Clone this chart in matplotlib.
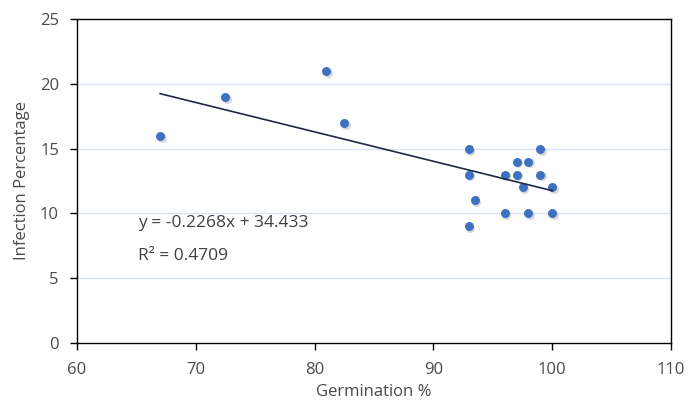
import matplotlib
matplotlib.use("Agg")
import matplotlib.pyplot as plt
import numpy as np

plt.rcParams['font.family'] = ['Open Sans', 'DejaVu Sans']

germination = [67, 72.5, 81, 82.5, 93, 93, 93, 93.5, 96, 96, 97, 97, 97.5, 98, 98, 99, 99, 100, 100]
infection = [16, 19, 21, 17, 15, 13, 9, 11, 10, 13, 14, 13, 12, 14, 10, 15, 13, 12, 10]
slope = -0.2268
intercept = 34.433
r2 = 0.4709
xticks = [60, 70, 80, 90, 100, 110]
yticks = [0, 5, 10, 15, 20, 25]

fig = plt.figure(figsize=(6.88, 4.09), dpi=100)
ax = fig.add_axes([0.1119, 0.1614, 0.8634, 0.7922])

ax.set_xlim(60, 110)
ax.set_ylim(0, 25)
ax.set_xticks(xticks)
ax.set_yticks(yticks)

for y in yticks[1:-1]:
    ax.axhline(y, color='#dae3f3', lw=1, zorder=0)

# shadow
ax.scatter(np.array(germination) + 0.12, np.array(infection) - 0.15, s=42, color='#b0b0b0', alpha=0.5, linewidths=0, zorder=2)
ax.scatter(germination, infection, s=42, color='#3d72c0', linewidths=0, zorder=3)

xs = np.array([min(germination), max(germination)])
ax.plot(xs, slope * xs + intercept, color='#1f2a44', lw=1.2, zorder=4)

ax.text(65.1, 9.26, f"y = {slope}x + {intercept}", fontsize=12.5, color='#404040', va='center', ha='left')
ax.text(65.1, 6.75, f"R² = {r2}", fontsize=12.5, color='#404040', va='center', ha='left')

for s in ax.spines.values():
    s.set_color('black')
    s.set_linewidth(1)
ax.tick_params(direction='out', length=5, width=1, colors='black', labelcolor='#4a4a4a', labelsize=12)
ax.tick_params(axis='x', pad=9)
ax.tick_params(axis='y', pad=8)

ax.set_xlabel('Germination %', fontsize=12, color='#4a4a4a', va='center')
ax.set_ylabel('Infection Percentage', fontsize=12, color='#4a4a4a', va='center')
ax.xaxis.set_label_coords(0.5, -0.151)
ax.yaxis.set_label_coords(-0.0926, 0.5)

fig.savefig('out.png', dpi=100)
